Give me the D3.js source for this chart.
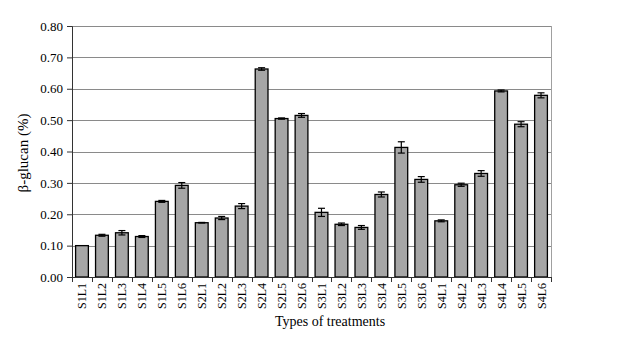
<!DOCTYPE html>
<html>
<head>
<meta charset="utf-8">
<script src="https://cdn.jsdelivr.net/npm/d3@7"></script>
<style>
  body { margin: 0; background: #fff; }
  svg text { font-family: "Liberation Serif", "Times New Roman", serif; fill: #000; }
</style>
</head>
<body>
<div id="chart"></div>
<script>
// treatment labels
const treatments = ["S1L1", "S1L2", "S1L3", "S1L4", "S1L5", "S1L6",
                    "S2L1", "S2L2", "S2L3", "S2L4", "S2L5", "S2L6",
                    "S3L1", "S3L2", "S3L3", "S3L4", "S3L5", "S3L6",
                    "S4L1", "S4L2", "S4L3", "S4L4", "S4L5", "S4L6"];
// beta-glucan means (%)
const glucan = [0.100, 0.133, 0.141, 0.129, 0.241, 0.292,
                0.173, 0.188, 0.226, 0.663, 0.505, 0.515,
                0.206, 0.168, 0.158, 0.263, 0.413, 0.311,
                0.179, 0.294, 0.330, 0.593, 0.487, 0.579];
// error bar half-widths
const errors = [0.000, 0.003, 0.007, 0.003, 0.003, 0.009,
                0.001, 0.005, 0.008, 0.004, 0.002, 0.006,
                0.013, 0.004, 0.006, 0.008, 0.018, 0.009,
                0.003, 0.005, 0.009, 0.003, 0.008, 0.008];
const yTicks = [0, 0.1, 0.2, 0.3, 0.4, 0.5, 0.6, 0.7, 0.8];

const W = 621, H = 350;
const margin = { top: 26, right: 70, bottom: 73, left: 72 };
const width = W - margin.left - margin.right,
      height = H - margin.top - margin.bottom;

const svg = d3.select("#chart").append("svg")
    .attr("width", W)
    .attr("height", H);

const g = svg.append("g")
    .attr("transform", "translate(" + margin.left + "," + margin.top + ")");

//----------------------------SCALES----------------------------//
const x = d3.scaleBand().domain(treatments).range([0, width]).paddingInner(0.36).paddingOuter(0.18);
const y = d3.scaleLinear().domain([0, 0.8]).range([height, 0]);

//----------------------------GRID------------------------------//
g.append("g")
    .selectAll("line")
    .data(yTicks.slice(1))
    .enter().append("line")
    .attr("x1", 0).attr("x2", width)
    .attr("y1", d => Math.round(y(d)) + 0.5)
    .attr("y2", d => Math.round(y(d)) + 0.5)
    .attr("stroke", "#8a8a8a")
    .attr("stroke-width", 1);

// right border of plot area
g.append("line")
    .attr("x1", width + 0.5).attr("x2", width + 0.5)
    .attr("y1", 0).attr("y2", height)
    .attr("stroke", "#a0a0a0");

//----------------------------BARS------------------------------//
const bars = g.selectAll(".bar")
    .data(treatments)
    .enter().append("g");

bars.append("rect")
    .attr("x", d => x(d))
    .attr("y", (d, i) => y(glucan[i]))
    .attr("width", x.bandwidth())
    .attr("height", (d, i) => height - y(glucan[i]))
    .attr("fill", "#a6a6a6")
    .attr("stroke", "#000")
    .attr("stroke-width", 1.3);

// error bars
const eb = bars.filter((d, i) => errors[i] > 0);
const cx = d => x(d) + x.bandwidth() / 2;
const idx = d => treatments.indexOf(d);
eb.append("line")
    .attr("x1", cx).attr("x2", cx)
    .attr("y1", d => y(glucan[idx(d)] - errors[idx(d)]))
    .attr("y2", d => y(glucan[idx(d)] + errors[idx(d)]))
    .attr("stroke", "#000").attr("stroke-width", 1.2);
[-1, 1].forEach(s => {
    eb.append("line")
        .attr("x1", d => cx(d) - 3.5).attr("x2", d => cx(d) + 3.5)
        .attr("y1", d => y(glucan[idx(d)] + s * errors[idx(d)]))
        .attr("y2", d => y(glucan[idx(d)] + s * errors[idx(d)]))
        .attr("stroke", "#000").attr("stroke-width", 1.2);
});

//-----------------------------AXES-----------------------------//
const yAxis = d3.axisLeft(y)
    .tickValues(yTicks)
    .tickFormat(d3.format(".2f"))
    .tickSize(5)
    .tickPadding(4);

const ya = g.append("g").call(yAxis);
ya.select(".domain").attr("stroke", "#333");
ya.selectAll(".tick line").attr("stroke", "#333");
ya.selectAll("text").style("font-size", "13px");

// x axis line and boundary ticks
const xa = g.append("g").attr("transform", "translate(0," + height + ")");
xa.append("line")
    .attr("x1", 0).attr("x2", width + 1)
    .attr("y1", 0.5).attr("y2", 0.5)
    .attr("stroke", "#333");
const bounds = d3.range(treatments.length + 1).map(i => i * (width / treatments.length));
xa.selectAll(".bt")
    .data(bounds)
    .enter().append("line")
    .attr("x1", d => Math.round(d) + 0.5).attr("x2", d => Math.round(d) + 0.5)
    .attr("y1", 0).attr("y2", 5)
    .attr("stroke", "#333");

xa.selectAll(".lbl")
    .data(treatments)
    .enter().append("text")
    .attr("transform", d => "translate(" + (x(d) + x.bandwidth() / 2 + 4.5) + ",6) rotate(-90)")
    .attr("text-anchor", "end")
    .style("font-size", "12px")
    .text(d => d);

//----------------------------TITLES----------------------------//
svg.append("text")
    .attr("x", 330)
    .attr("y", 326)
    .attr("text-anchor", "middle")
    .style("font-size", "14px")
    .text("Types of treatments");

svg.append("text")
    .attr("transform", "translate(28,153) rotate(-90)")
    .attr("text-anchor", "middle")
    .style("font-size", "15px")
    .text("β-glucan (%)");
</script>
</body>
</html>
